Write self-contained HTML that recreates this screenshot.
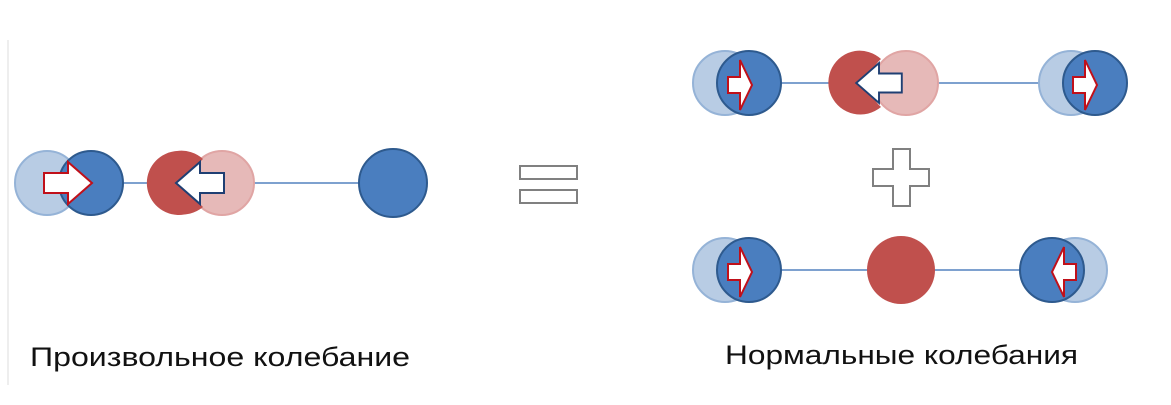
<!DOCTYPE html>
<html><head><meta charset="utf-8"><style>
html,body{margin:0;padding:0;background:#fff;}
svg{display:block;}
text{font-family:"Liberation Sans","DejaVu Sans",sans-serif;fill:#111;}
</style></head><body>
<svg width="1171" height="405" viewBox="0 0 1171 405">
<defs>
<path id="arrR" d="M-24,-10 L0,-10 L0,-21 L24,0 L0,21 L0,10 L-24,10 Z"/>
<path id="arrS" d="M-12,-8 L0,-8 L0,-25 L12,0 L0,25 L0,8 L-12,8 Z"/>
</defs>
<line x1="8" y1="40" x2="8" y2="385" stroke="#eee" stroke-width="2"/>

<g>
<line x1="91" y1="183" x2="393" y2="183" stroke="#7ea1cf" stroke-width="2"/>
<circle cx="47" cy="183" r="32" fill="#b8cce4" stroke="#95b3d7" stroke-width="2"/>
<circle cx="91" cy="183" r="32" fill="#4a7ebf" stroke="#2e5a8e" stroke-width="2"/>
<use href="#arrR" transform="translate(68,183)" fill="#fff" stroke="#c0101a" stroke-width="2"/>
<circle cx="222" cy="183" r="32" fill="#e6b9b8" stroke="#e0a5a4" stroke-width="2"/>
<path d="M200,159 A32,32 0 1,0 200,207 A32,32 0 0,1 200,159 Z" fill="#c0504d"/>
<circle cx="177" cy="183" r="32" fill="#c0504d" opacity="0.0"/>
<path d="M177,151 A32,32 0 1,0 203,207 A32,32 0 0,1 203,159 A32,32 0 0,0 177,151Z" fill="#c0504d"/>
<use href="#arrR" transform="translate(200,183) scale(-1,1)" fill="#fff" stroke="#1f3f73" stroke-width="2"/>
<circle cx="393" cy="183" r="34" fill="#4a7ebf" stroke="#2e5a8e" stroke-width="2"/>
</g>

<g fill="#fff" stroke="#808080" stroke-width="2">
<rect x="520" y="166" width="57" height="13"/>
<rect x="520" y="190" width="57" height="13"/>
</g>

<g>
<line x1="749" y1="83" x2="1095" y2="83" stroke="#7ea1cf" stroke-width="2"/>
<circle cx="725" cy="83" r="32" fill="#b8cce4" stroke="#95b3d7" stroke-width="2"/>
<circle cx="749" cy="83" r="32" fill="#4a7ebf" stroke="#2e5a8e" stroke-width="2"/>
<use href="#arrS" transform="translate(740,85)" fill="#fff" stroke="#c0101a" stroke-width="2"/>
<circle cx="906" cy="83" r="32" fill="#e6b9b8" stroke="#e0a5a4" stroke-width="2"/>
<path d="M855,51 A32,32 0 1,0 881,107 A32,32 0 0,1 881,59 A32,32 0 0,0 855,51Z" fill="#c0504d"/>
<use href="#arrR" transform="translate(879,83) scale(-0.95,0.95)" fill="#fff" stroke="#1f3f73" stroke-width="2"/>
<circle cx="1071" cy="83" r="32" fill="#b8cce4" stroke="#95b3d7" stroke-width="2"/>
<circle cx="1095" cy="83" r="32" fill="#4a7ebf" stroke="#2e5a8e" stroke-width="2"/>
<use href="#arrS" transform="translate(1085,85)" fill="#fff" stroke="#c0101a" stroke-width="2"/>
</g>

<path d="M893,149 L910,149 L910,169 L929,169 L929,186 L910,186 L910,206 L893,206 L893,186 L873,186 L873,169 L893,169 Z" fill="#fff" stroke="#808080" stroke-width="2"/>

<g>
<line x1="749" y1="270" x2="1052" y2="270" stroke="#7ea1cf" stroke-width="2"/>
<circle cx="725" cy="270" r="32" fill="#b8cce4" stroke="#95b3d7" stroke-width="2"/>
<circle cx="749" cy="270" r="32" fill="#4a7ebf" stroke="#2e5a8e" stroke-width="2"/>
<use href="#arrS" transform="translate(740,272)" fill="#fff" stroke="#c0101a" stroke-width="2"/>
<circle cx="901" cy="270" r="34" fill="#c0504d"/>
<circle cx="1075" cy="270" r="32" fill="#b8cce4" stroke="#95b3d7" stroke-width="2"/>
<circle cx="1052" cy="270" r="32" fill="#4a7ebf" stroke="#2e5a8e" stroke-width="2"/>
<use href="#arrS" transform="translate(1064,272) scale(-1,1)" fill="#fff" stroke="#c0101a" stroke-width="2"/>
</g>

<text x="30" y="366" font-size="27" textLength="380" lengthAdjust="spacingAndGlyphs">Произвольное колебание</text>
<text x="725" y="364" font-size="27" textLength="353" lengthAdjust="spacingAndGlyphs">Нормальные колебания</text>
</svg>
</body></html>
